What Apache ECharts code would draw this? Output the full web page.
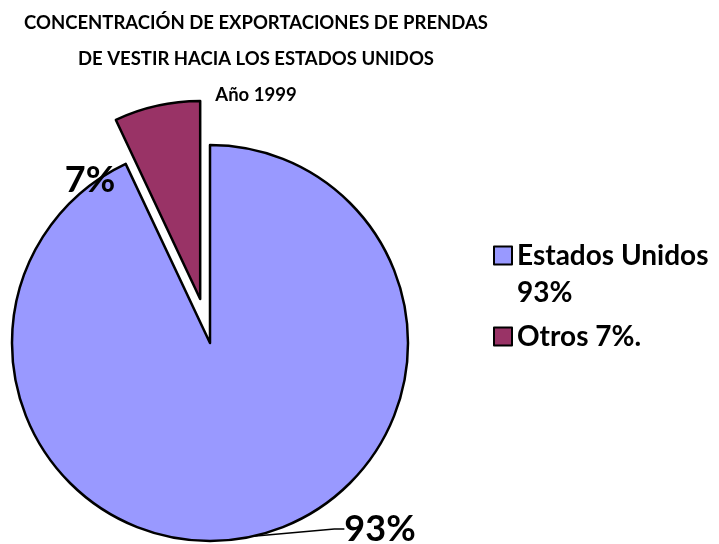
<!DOCTYPE html>
<html>
<head>
<meta charset="utf-8">
<script src="https://cdn.jsdelivr.net/npm/echarts@6/dist/echarts.min.js"></script>
<style>
  html, body { margin: 0; padding: 0; background: #fff; }
  #chart { width: 719px; height: 544px; }
</style>
</head>
<body>
<div id="chart"></div>
<script>
// datos del grafico
var categories = ['Estados Unidos', 'Otros'];
var values = [93, 7];
var legendTexts = ['\nEstados Unidos\n93%', 'Otros 7%.'];
var sliceLabels = ['93%', '7%'];
var colors = ['#9999FF', '#993366'];

var font = 'Lato, Carlito, sans-serif';

var cx = 210, cy = 343, radius = 198;
var explode = 45;

// desplazamiento de la porcion "Otros" sobre su angulo medio
var total = values[0] + values[1];
var midAngle = (values[0] + values[1] / 2) / total * 2 * Math.PI;
var cx2 = cx + Math.sin(midAngle) * explode;
var cy2 = cy - Math.cos(midAngle) * explode;

var chart = echarts.init(document.getElementById('chart'));

// cada serie dibuja solo una porcion; la otra queda transparente
function pieData(visibleIndex) {
    return categories.map(function (name, i) {
        var on = i === visibleIndex;
        return {
            name: name,
            value: values[i],
            itemStyle: on ? { color: colors[i] } : { color: 'rgba(0,0,0,0)', borderWidth: 0 },
            label: { show: on },
            labelLine: { show: on && i === 0 }
        };
    });
}

var baseSeries = {
    type: 'pie',
    radius: radius,
    startAngle: 90,
    clockwise: true,
    silent: true,
    avoidLabelOverlap: false,
    itemStyle: { borderColor: '#000', borderWidth: 2.5 },
    emphasis: { disabled: true },
    label: {
        position: 'outside',
        formatter: function (p) { return sliceLabels[p.dataIndex]; },
        fontFamily: font,
        fontWeight: 'bold',
        fontSize: 36,
        color: '#000'
    },
    labelLine: {
        length: 10,
        length2: 10,
        lineStyle: { color: '#000', width: 1.5 }
    }
};

var option = {
    animation: false,
    title: {
        text: 'CONCENTRACIÓN DE EXPORTACIONES DE PRENDAS\nDE VESTIR HACIA LOS ESTADOS UNIDOS\nAño 1999',
        left: 256,
        top: 5,
        padding: 0,
        textAlign: 'center',
        textStyle: {
            fontFamily: font,
            fontWeight: 'bold',
            fontSize: 18.5,
            lineHeight: 36,
            color: '#000'
        }
    },
    legend: {
        orient: 'vertical',
        left: 493,
        top: 200,
        padding: 0,
        itemWidth: 18,
        itemHeight: 18,
        itemGap: 7,
        icon: 'rect',
        selectedMode: false,
        data: categories.map(function (name, i) {
            return { name: name, itemStyle: { color: colors[i], borderColor: '#000', borderWidth: 2 } };
        }),
        formatter: function (name) {
            return legendTexts[categories.indexOf(name)];
        },
        textStyle: {
            fontFamily: font,
            fontWeight: 'bold',
            fontSize: 28,
            lineHeight: 37,
            color: '#000'
        }
    },
    series: [
        Object.assign({}, baseSeries, {
            name: 'principal',
            center: [cx, cy],
            labelLayout: function () {
                return { x: 380, y: 529, align: 'center', verticalAlign: 'middle' };
            },
            data: pieData(0)
        }),
        Object.assign({}, baseSeries, {
            name: 'separada',
            center: [cx2, cy2],
            labelLayout: function () {
                return { x: 90, y: 180, align: 'center', verticalAlign: 'middle' };
            },
            data: pieData(1)
        })
    ]
};

chart.setOption(option);
</script>
</body>
</html>
